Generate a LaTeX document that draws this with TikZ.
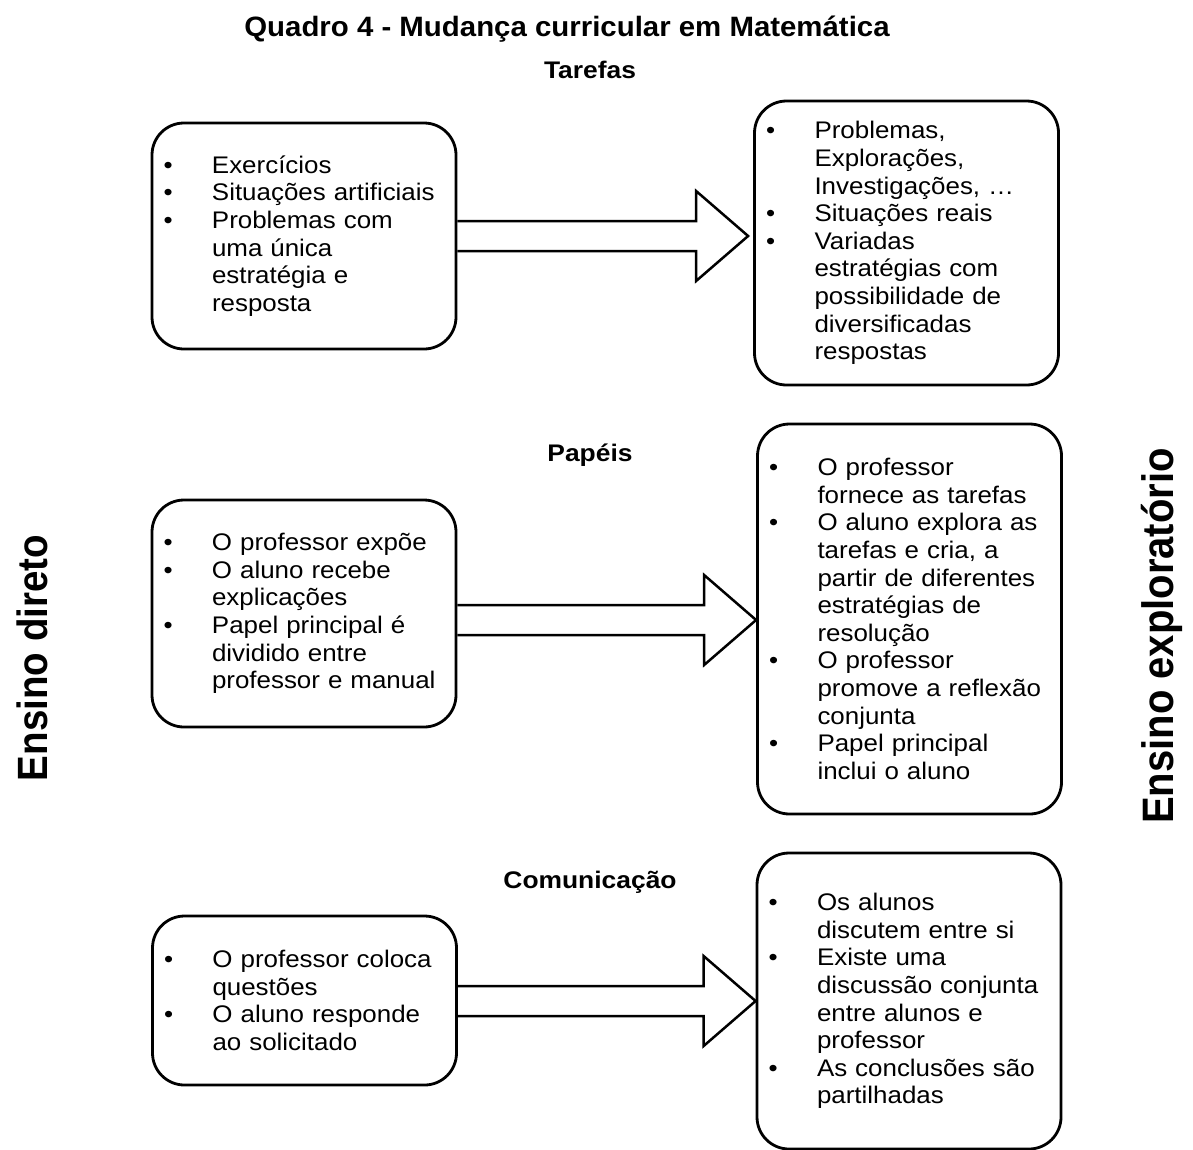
\documentclass[tikz,border=0pt]{standalone}
\usepackage{fontspec}
\setmainfont{Liberation Sans}
\newfontfamily\bodyfam[FakeStretch=1.08]{Liberation Sans}
\newfontfamily\labfam[FakeStretch=1.1]{Liberation Sans}
\newfontfamily\titfam[FakeStretch=1.05]{Liberation Sans}
\usetikzlibrary{calc}
\newcommand\bi{\makebox[56pt][l]{\hspace*{7.5pt}\textbullet}}
\newcommand\cont{\hspace*{56pt}}
\newcommand\blockarrow[2]{%
  \draw[barrow] ($(#1.east |- #2)+(0,-15)$) -- ($(#2)+(-52,-15)$) -- ($(#2)+(-52,-45)$) -- (#2)
    -- ($(#2)+(-52,45)$) -- ($(#2)+(-52,15)$) -- ($(#1.east |- #2)+(0,15)$);}
\tikzset{
  rbox/.style={draw, line width=2.8pt, rounded corners=32pt, inner xsep=4pt, inner ysep=0pt,
    align=left, text width=296pt, minimum width=304pt,
    font={\bodyfam\fontsize{24}{27.6}\selectfont\parindent=0pt}},
  barrow/.style={draw, line width=2.5pt, line join=miter},
  lab/.style={font={\labfam\bfseries\fontsize{24}{28}\selectfont}, inner sep=0pt, anchor=base},
  side/.style={font={\bfseries\fontsize{38.5}{44}\selectfont}, inner sep=0pt, anchor=base, rotate=90},
}
\begin{document}
\begin{tikzpicture}[x=1pt,y=-1pt]
\fill[white] (0,0) rectangle (1193,1149);
\useasboundingbox (0,0) rectangle (1193,1149);
\clip (0,0) rectangle (1193,1149);

\node[font={\titfam\bfseries\fontsize{28}{32}\selectfont}, inner sep=0pt, anchor=base] (title) at (567,36) {Quadro 4 - Mudança curricular em Matemática};
\node[lab] (lt) at (590,78.5) {Tarefas};
\node[lab] (lp) at (590,461.5) {Papéis};
\node[lab] (lc) at (590,888.5) {Comunicação};

\node[side] (sl) at (47,658) {\scalebox{1}[1.1]{Ensino direto}};
\node[side, font={\bfseries\fontsize{40}{46}\selectfont}] (sr) at (1173,636) {\scalebox{1}[1.1]{Ensino exploratório}};

\node[rbox, minimum height=226pt] (b1) at (304,236) {\bi Exercícios\\ \bi Situações artificiais\\ \bi Problemas com\\ \cont uma única\\ \cont estratégia e\\ \cont resposta};
\node[rbox, minimum height=284pt] (b2) at (906.5,243) {\bi Problemas,\\ \cont Explorações,\\ \cont Investigações, …\\ \bi Situações reais\\ \bi Variadas\\ \cont estratégias com\\ \cont possibilidade de\\ \cont diversificadas\\ \cont respostas};
\node[rbox, minimum height=227pt] (b3) at (304,613.5) {\bi O professor expõe\\ \bi O aluno recebe\\ \cont explicações\\ \bi Papel principal é\\ \cont dividido entre\\ \cont professor e manual};
\node[rbox, minimum height=390pt] (b4) at (909.5,619) {\bi O professor\\ \cont fornece as tarefas\\ \bi O aluno explora as\\ \cont tarefas e cria, a\\ \cont partir de diferentes\\ \cont estratégias de\\ \cont resolução\\ \bi O professor\\ \cont promove a reflexão\\ \cont conjunta\\ \bi Papel principal\\ \cont inclui o aluno};
\node[rbox, minimum height=169pt] (b5) at (304.5,1000.5) {\bi O professor coloca\\ \cont questões\\ \bi O aluno responde\\ \cont ao solicitado};
\node[rbox, minimum height=296pt] (b6) at (909,1001) {\bi Os alunos\\ \cont discutem entre si\\ \bi Existe uma\\ \cont discussão conjunta\\ \cont entre alunos e\\ \cont professor\\ \bi As conclusões são\\ \cont partilhadas};

\coordinate (t1) at ($(b2.west)+(-5,-7)$);
\coordinate (t2) at ($(b4.west)+(0,1)$);
\coordinate (t3) at (b6.west);
\blockarrow{b1}{t1}
\blockarrow{b3}{t2}
\blockarrow{b5}{t3}
\end{tikzpicture}
\end{document}
